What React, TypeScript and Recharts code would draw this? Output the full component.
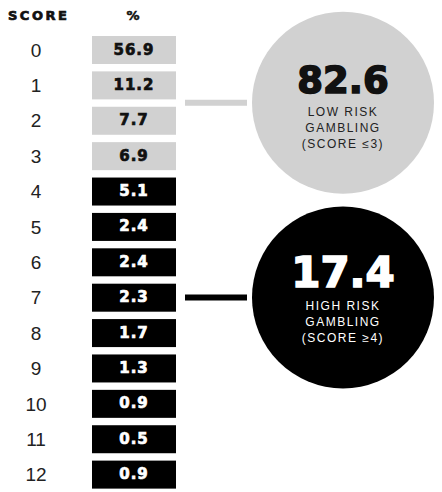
import { BarChart, Bar, XAxis, YAxis, Customized } from 'recharts';

const scores = ['0', '1', '2', '3', '4', '5', '6', '7', '8', '9', '10', '11', '12'];
const percents = [56.9, 11.2, 7.7, 6.9, 5.1, 2.4, 2.4, 2.3, 1.7, 1.3, 0.9, 0.5, 0.9];
const lowRiskMaxScore = 3;
const lowRiskTotal = 82.6;
const highRiskTotal = 17.4;
const lowRiskLines = ['LOW RISK', 'GAMBLING', '(SCORE ≤3)'];
const highRiskLines = ['HIGH RISK', 'GAMBLING', '(SCORE ≥4)'];

const data = scores.map((s, i) => ({ score: s, pct: percents[i], low: Number(s) <= lowRiskMaxScore }));

const W = 442;
const H = 492;
const TOP = 32;
const ROW = (H - TOP) / scores.length;
const rowCenter = (i: number) => TOP + ROW * (i + 0.5);

const GREY = '#d1d1d1';
const HEAVY = '"DejaVu Sans", Arial, sans-serif';
const PLAIN = '"Liberation Sans", Arial, sans-serif';

const BoxShape = (props: any) => {
	const { y, height, payload } = props;
	const ink = payload.low ? '#111' : '#fff';
	return (
		<g>
			<rect x={92} y={y} width={84} height={height} fill={payload.low ? GREY : '#000'} />
			<text
				x={134}
				y={y + height / 2 + 4.5}
				textAnchor="middle"
				fontFamily={HEAVY}
				fontWeight="bold"
				fontSize={15}
				letterSpacing={1}
				fill={ink}
				stroke={ink}
				strokeWidth={0.7}
			>
				{payload.pct.toFixed(1)}
			</text>
		</g>
	);
};

const ScoreTick = (props: any) => {
	const { y, payload } = props;
	return (
		<text x={36} y={y + 7} textAnchor="middle" fontFamily={PLAIN} fontSize={19} fill="#222">
			{payload.value}
		</text>
	);
};

const Bubble = ({ cy, fill, ink, total, lines, big }: any) => (
	<g>
		<line x1={185} x2={247} y1={cy} y2={cy} stroke={fill} strokeWidth={6} />
		<circle cx={343} cy={cy} r={91} fill={fill} />
		<text
			x={343}
			y={cy - 10}
			textAnchor="middle"
			fontFamily={HEAVY}
			fontWeight="bold"
			fontSize={big}
			fill={ink}
			stroke={ink}
			strokeWidth={1.6}
		>
			{total.toFixed(1)}
		</text>
		{lines.map((l: string, i: number) => (
			<text
				key={l}
				x={343}
				y={cy + 13 + i * 16}
				textAnchor="middle"
				fontFamily={PLAIN}
				fontSize={12}
				letterSpacing={1.5}
				fill={ink === '#fff' ? '#fff' : '#222'}
			>
				{l}
			</text>
		))}
	</g>
);

const Extras = () => (
	<g>
		<text
			x={8}
			y={20}
			fontFamily={HEAVY}
			fontWeight="bold"
			fontSize={13}
			letterSpacing={2.5}
			fill="#111"
			stroke="#111"
			strokeWidth={0.7}
		>
			SCORE
		</text>
		<text
			x={133}
			y={20}
			textAnchor="middle"
			fontFamily={HEAVY}
			fontWeight="bold"
			fontSize={13}
			fill="#111"
			stroke="#111"
			strokeWidth={0.5}
		>
			%
		</text>
		<Bubble cy={rowCenter(1.5)} fill={GREY} ink="#111" total={lowRiskTotal} lines={lowRiskLines} big={37} />
		<Bubble cy={rowCenter(7)} fill="#000" ink="#fff" total={highRiskTotal} lines={highRiskLines} big={42} />
	</g>
);

export default function App() {
	return (
		<div style={{ position: 'absolute', left: 0, top: 0, width: W, height: H, background: '#fff' }}>
			<BarChart
				width={W}
				height={H}
				data={data}
				layout="vertical"
				margin={{ top: TOP, right: 0, left: 0, bottom: 0 }}
			>
				<XAxis type="number" domain={[0, 60]} hide />
				<YAxis type="category" dataKey="score" width={92} tick={<ScoreTick />} tickLine={false} axisLine={false} />
				<Bar dataKey="pct" barSize={28} shape={<BoxShape />} isAnimationActive={false} />
				<Customized component={<Extras />} />
			</BarChart>
		</div>
	);
}
